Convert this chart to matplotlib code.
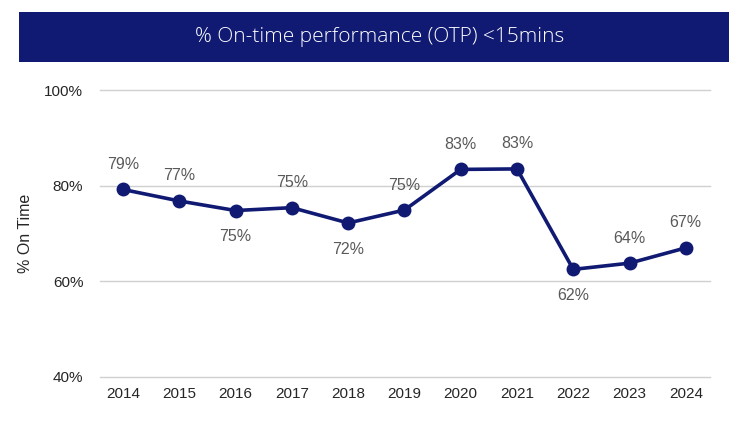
import matplotlib
matplotlib.use("Agg")
import matplotlib.pyplot as plt
from matplotlib.patches import Rectangle
from matplotlib.ticker import FuncFormatter

years = ["2014", "2015", "2016", "2017", "2018", "2019", "2020", "2021", "2022", "2023", "2024"]
otp = [79.2, 76.8, 74.8, 75.4, 72.2, 74.9, 83.4, 83.5, 62.5, 63.8, 67.0]
labels = ["79%", "77%", "75%", "75%", "72%", "75%", "83%", "83%", "62%", "64%", "67%"]
label_pos = ["above", "above", "below", "above", "below", "above", "above", "above", "below", "above", "above"]
yticks = [40, 60, 80, 100]

W, H = 751, 421
fig = plt.figure(figsize=(W / 100, H / 100), dpi=100)
plt.rcParams['font.family'] = ['Liberation Sans', 'DejaVu Sans']

navy = "#101a72"
fig.patches.append(Rectangle((19 / W, 1 - 62 / H), (729 - 19) / W, 50 / H,
                             transform=fig.transFigure, facecolor=navy, edgecolor="none"))
fig.text(380 / W, 1 - 37 / H, "% On-time performance (OTP) <15mins", color="white",
         ha="center", va="center", fontsize=15, fontweight="light",
         family=["Open Sans", "DejaVu Sans"])

ax = fig.add_axes([100 / W, 1 - 377 / H, (710 - 100) / W, (377 - 90) / H])
x = list(range(len(years)))
ax.plot(x, otp, color=navy, lw=2.6, marker="o", ms=9, zorder=3)
ax.set_xlim(-0.41, len(years) - 1 + 0.43)
ax.set_ylim(40, 100)
ax.set_yticks(yticks)
ax.yaxis.set_major_formatter(FuncFormatter(lambda v, p: f"{int(v)}%"))
ax.set_xticks(x)
ax.set_xticklabels(years)
ax.grid(axis="y", color="#d0d0d0", lw=1)
for gl in ax.get_ygridlines():
    gl.set_clip_on(False)
ax.set_axisbelow(True)
for s in ax.spines.values():
    s.set_visible(False)
ax.tick_params(axis="both", length=0, labelsize=11, colors="#262626")
ax.tick_params(axis="x", pad=7)
ax.tick_params(axis="y", pad=12)
ax.set_ylabel("% On Time", fontsize=11.5, color="#262626", labelpad=8)

for xi, v, lab, pos in zip(x, otp, labels, label_pos):
    off = 18 if pos == "above" else -19
    ax.annotate(lab, (xi, v), xytext=(0, off), textcoords="offset points",
                ha="center", va="center", fontsize=11.5, color="#595959")

fig.savefig("out.png", dpi=100)
